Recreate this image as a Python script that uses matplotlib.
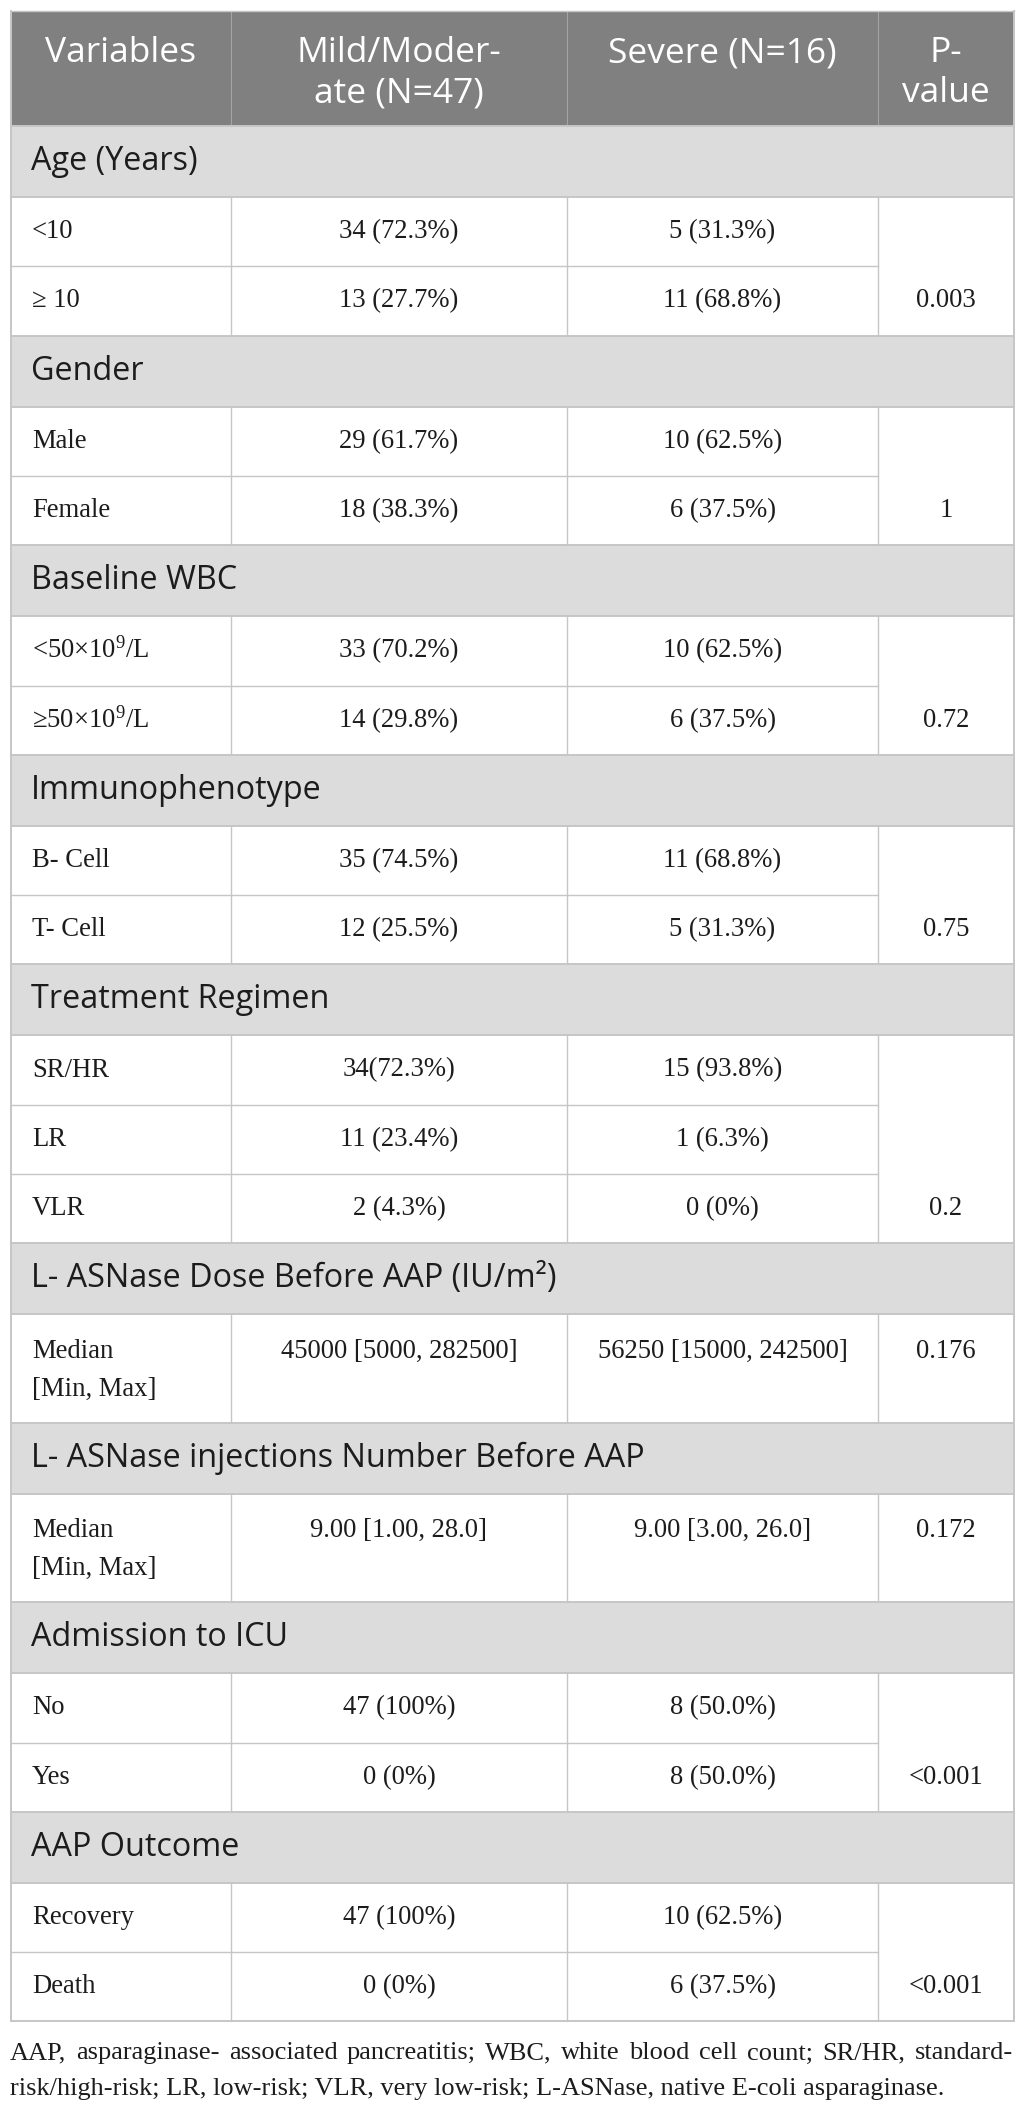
import matplotlib
matplotlib.use("Agg")
import matplotlib.pyplot as plt
from matplotlib.patches import Rectangle

plt.rcParams['mathtext.fontset'] = 'custom'
plt.rcParams['mathtext.rm'] = 'Liberation Serif'
plt.rcParams['mathtext.it'] = 'Liberation Serif:italic'

# table content
header = ["Variables", "Mild/Moder-\nate (N=47)", "Severe (N=16)", "P-\nvalue"]
sections = ["Age (Years)", "Gender", "Baseline WBC", "Immunophenotype",
            "Treatment Regimen", "L- ASNase Dose Before AAP (IU/m\u00b2)",
            "L- ASNase injections Number Before AAP", "Admission to ICU",
            "AAP Outcome"]
row_labels = [["<10", "\u2265 10"],
              ["Male", "Female"],
              ["<50\u00d710$^\\mathrm{9}$/L", "\u226550\u00d710$^\\mathrm{9}$/L"],
              ["B- Cell", "T- Cell"],
              ["SR/HR", "LR", "VLR"],
              ["Median\n[Min, Max]"],
              ["Median\n[Min, Max]"],
              ["No", "Yes"],
              ["Recovery", "Death"]]
mild = [["34 (72.3%)", "13 (27.7%)"],
        ["29 (61.7%)", "18 (38.3%)"],
        ["33 (70.2%)", "14 (29.8%)"],
        ["35 (74.5%)", "12 (25.5%)"],
        ["34(72.3%)", "11 (23.4%)", "2 (4.3%)"],
        ["45000 [5000, 282500]"],
        ["9.00 [1.00, 28.0]"],
        ["47 (100%)", "0 (0%)"],
        ["47 (100%)", "0 (0%)"]]
severe = [["5 (31.3%)", "11 (68.8%)"],
          ["10 (62.5%)", "6 (37.5%)"],
          ["10 (62.5%)", "6 (37.5%)"],
          ["11 (68.8%)", "5 (31.3%)"],
          ["15 (93.8%)", "1 (6.3%)", "0 (0%)"],
          ["56250 [15000, 242500]"],
          ["9.00 [3.00, 26.0]"],
          ["8 (50.0%)", "8 (50.0%)"],
          ["10 (62.5%)", "6 (37.5%)"]]
p_values = ["0.003", "1", "0.72", "0.75", "0.2", "0.176", "0.172", "<0.001", "<0.001"]
footnote = ["AAP, asparaginase- associated pancreatitis; WBC, white blood cell count; SR/HR, standard-",
            "risk/high-risk; LR, low-risk; VLR, very low-risk; L-ASNase, native E-coli asparaginase."]

W, H = 1026, 2111
col_x = [11, 231, 567, 878, 1014]
top = 11
h_head = 115
h_sec = 71
h_row = 69.3
h_two = 108.5
gap = 38

head_bg = '#808080'
sec_bg = '#dcdcdc'
grid = '#c6c6c6'
sans = ['Open Sans', 'DejaVu Sans']
serif = ['Liberation Serif', 'DejaVu Serif']
fs_head, fs_sec, fs_cell, fs_note = 25.5, 23.3, 19.2, 19.0
ink = '#1c1c1c'

fig = plt.figure(figsize=(W / 100, H / 100), dpi=100)
ax = fig.add_axes([0, 0, 1, 1])
ax.set_xlim(0, W)
ax.set_ylim(H, 0)
ax.axis('off')

left, right = col_x[0], col_x[-1]
centers = [(col_x[i] + col_x[i + 1]) / 2 for i in range(4)]


def cell(x, y0, txt, ha, **kw):
    for k, part in enumerate(txt.split('\n')):
        ax.text(x, y0 + k * gap, part, ha=ha, va='center', **kw)


# header
ax.add_patch(Rectangle((left, top), right - left, h_head, color=head_bg, lw=0))
for x in col_x[1:-1]:
    ax.plot([x, x], [top, top + h_head], color='#a4a4a4', lw=0.8)
for i, txt in enumerate(header):
    for k, part in enumerate(txt.split('\n')):
        ax.text(centers[i], top + 42 + k * 40, part, ha='center', va='center',
                color='white', fontsize=fs_head, family=sans)

y = top + h_head
for s, title in enumerate(sections):
    ax.add_patch(Rectangle((left, y), right - left, h_sec, color=sec_bg, lw=0))
    ax.text(left + 20, y + h_sec / 2, title, ha='left', va='center', color=ink,
            fontsize=fs_sec, family=sans)
    ax.plot([left, right], [y, y], color=grid, lw=1.4)
    y += h_sec
    ax.plot([left, right], [y, y], color=grid, lw=1.4)
    block_top = y
    n = len(row_labels[s])
    for r in range(n):
        two = '\n' in row_labels[s][r]
        h = h_two if two else h_row
        ty = y + (37 if two else h / 2)
        cell(left + 21, ty, row_labels[s][r], 'left', fontsize=fs_cell, family=serif, color=ink)
        cell(centers[1], ty, mild[s][r], 'center', fontsize=fs_cell, family=serif, color=ink)
        cell(centers[2], ty, severe[s][r], 'center', fontsize=fs_cell, family=serif, color=ink)
        if r == n - 1:
            cell(centers[3], ty, p_values[s], 'center', fontsize=fs_cell, family=serif, color=ink)
        y += h
        if r < n - 1:
            ax.plot([left, col_x[3]], [y, y], color=grid, lw=1.0)
    for x in col_x[1:-1]:
        ax.plot([x, x], [block_top, y], color=grid, lw=1.0)

# table border
ax.plot([left, right], [y, y], color=grid, lw=1.4)
ax.plot([left, left], [top, y], color=grid, lw=1.4)
ax.plot([right, right], [top, y], color=grid, lw=1.4)
ax.plot([left, right], [top, top], color=grid, lw=1.0)

# footnote, first line justified to the table width
renderer = fig.canvas.get_renderer()
scale = W / fig.bbox.width
x0, x1 = left - 1, right - 1


def word_widths(ws, size):
    out = []
    for w in ws:
        t = ax.text(0, 0, w, fontsize=size, family=serif)
        out.append(t.get_window_extent(renderer).width * scale)
        t.remove()
    return out


words = footnote[0].split(' ')
sp = ax.text(0, 0, 'a a', fontsize=fs_note, family=serif)
sa = ax.text(0, 0, 'aa', fontsize=fs_note, family=serif)
space_w = (sp.get_window_extent(renderer).width - sa.get_window_extent(renderer).width) * scale
sp.remove()
sa.remove()
ww = word_widths(words, fs_note)
natural = sum(ww) + space_w * (len(words) - 1)
if natural > x1 - x0:
    fs_note = fs_note * (x1 - x0) / natural * 0.995
    ww = word_widths(words, fs_note)

for k, line in enumerate(footnote):
    ly = y + 32 + k * 36
    if k == len(footnote) - 1:
        ax.text(x0, ly, line, ha='left', va='center', fontsize=fs_note,
                family=serif, color=ink)
        continue
    space = (x1 - x0 - sum(ww)) / (len(words) - 1)
    x = x0
    for w, wd in zip(words, ww):
        ax.text(x, ly, w, ha='left', va='center', fontsize=fs_note,
                family=serif, color=ink)
        x += wd + space

fig.savefig('out.png', dpi=100)
